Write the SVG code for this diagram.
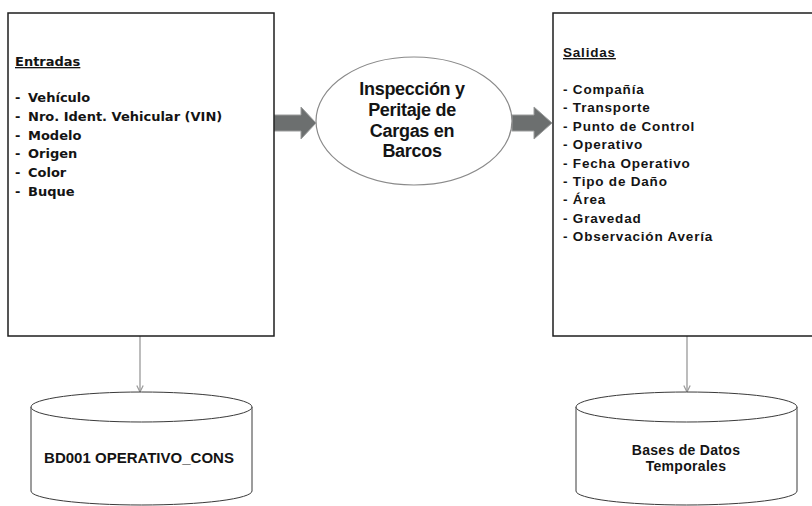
<svg xmlns="http://www.w3.org/2000/svg" width="812" height="506" viewBox="0 0 812 506">
<defs>
<style>
.box{fill:#fff;stroke:#1e1e1e;stroke-width:1.5}
.ell{fill:#fff;stroke:#8a8a8a;stroke-width:1.2}
.cyl{fill:#fff;stroke:#3a3a3a;stroke-width:1}
.blk{fill:#6c6f6f;stroke:#9a9c9c;stroke-width:1}
.con{stroke:#999;stroke-width:1.3;fill:none}
.tl{font-family:"DejaVu Sans",Verdana,sans-serif;font-weight:bold;font-size:13px;fill:#141414}
.tr{font-family:"Liberation Sans",Arial,sans-serif;font-weight:bold;font-size:13.5px;letter-spacing:0.8px;fill:#141414}
.te{font-family:"Liberation Sans",Arial,sans-serif;font-weight:bold;font-size:18px;letter-spacing:-0.3px;fill:#141414;text-anchor:middle}
.tc{font-family:"Liberation Sans",Arial,sans-serif;font-weight:bold;font-size:15px;fill:#141414;text-anchor:middle}
.tc2{font-family:"Liberation Sans",Arial,sans-serif;font-weight:bold;font-size:14px;letter-spacing:0.3px;fill:#141414;text-anchor:middle}
.u{text-decoration:underline}
</style>
<marker id="ah" viewBox="0 0 10 10" refX="9" refY="5" markerWidth="8" markerHeight="8" markerUnits="userSpaceOnUse" orient="auto">
<path d="M1,1 L9,5 L1,9" fill="none" stroke="#999" stroke-width="1.5"/>
</marker>
</defs>

<g id="connectors">
<line class="con" x1="140" y1="336" x2="140" y2="392" marker-end="url(#ah)"/>
<line class="con" x1="687" y1="336" x2="687" y2="392" marker-end="url(#ah)"/>
<polygon class="blk" points="274,115 301,115 301,107 316,123 301,139 301,131 274,131"/>
<polygon class="blk" points="512,115 534,115 534,107 552,123 534,139 534,131 512,131"/>
</g>

<g id="entradas">
<rect class="box" x="8" y="13" width="266" height="323"/>
<text class="tl u" x="15" y="66">Entradas</text>
<text class="tl" x="15" y="102">-</text><text class="tl" x="28" y="102">Vehículo</text>
<text class="tl" x="15" y="120.8">-</text><text class="tl" x="28" y="120.8">Nro. Ident. Vehicular (VIN)</text>
<text class="tl" x="15" y="139.6">-</text><text class="tl" x="28" y="139.6">Modelo</text>
<text class="tl" x="15" y="158.4">-</text><text class="tl" x="28" y="158.4">Origen</text>
<text class="tl" x="15" y="177.2">-</text><text class="tl" x="28" y="177.2">Color</text>
<text class="tl" x="15" y="196">-</text><text class="tl" x="28" y="196">Buque</text>
</g>

<g id="proceso">
<ellipse class="ell" cx="414" cy="121" rx="98" ry="64"/>
<text class="te" x="412" y="95">Inspección y</text>
<text class="te" x="412" y="115.7">Peritaje de</text>
<text class="te" x="412" y="136.5">Cargas en</text>
<text class="te" x="412" y="157">Barcos</text>
</g>

<g id="salidas">
<rect class="box" x="553" y="13" width="270" height="323"/>
<text class="tr u" x="563" y="57">Salidas</text>
<text class="tr" x="563" y="94">- Compañía</text>
<text class="tr" x="563" y="112.4">- Transporte</text>
<text class="tr" x="563" y="130.8">- Punto de Control</text>
<text class="tr" x="563" y="149.2">- Operativo</text>
<text class="tr" x="563" y="167.6">- Fecha Operativo</text>
<text class="tr" x="563" y="186">- Tipo de Daño</text>
<text class="tr" x="563" y="204.4">- Área</text>
<text class="tr" x="563" y="222.8">- Gravedad</text>
<text class="tr" x="563" y="241.2">- Observación Avería</text>
</g>

<g id="bd001">
<path class="cyl" d="M31,407 L31,491 A110.5,14 0 0 0 252,491 L252,407"/>
<ellipse class="cyl" cx="141.5" cy="407" rx="110.5" ry="15"/>
<text class="tc" x="139" y="463">BD001 OPERATIVO_CONS</text>
</g>

<g id="temporales">
<path class="cyl" d="M576,407 L576,491 A110.5,14 0 0 0 797,491 L797,407"/>
<ellipse class="cyl" cx="686.5" cy="407" rx="110.5" ry="15"/>
<text class="tc2" x="686" y="455">Bases de Datos</text>
<text class="tc2" x="686" y="471">Temporales</text>
</g>
</svg>
